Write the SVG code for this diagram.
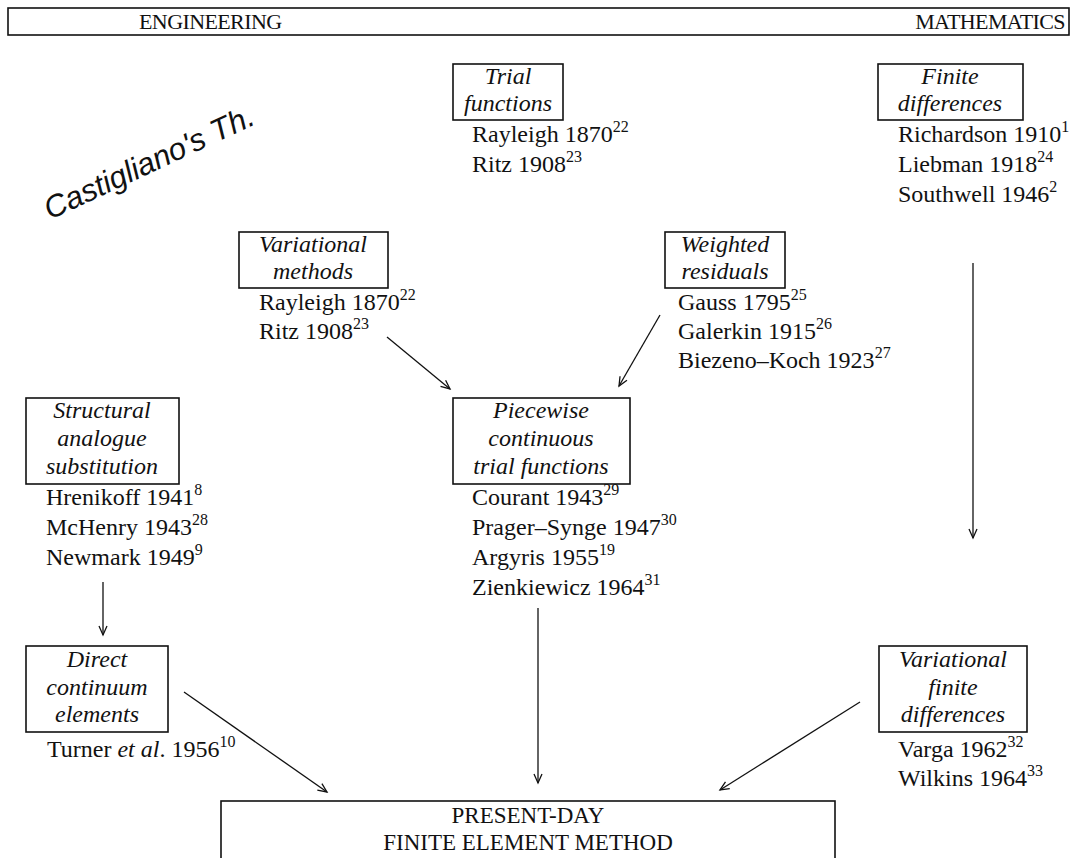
<svg xmlns="http://www.w3.org/2000/svg" width="1074" height="858" viewBox="0 0 1074 858">
<defs>
<marker id="ah" markerWidth="12" markerHeight="12" refX="10" refY="5" orient="auto" markerUnits="userSpaceOnUse">
<path d="M1,1 L10,5 L1,9" fill="none" stroke="#111" stroke-width="1.3"/>
</marker>
<style>
.box{fill:#fff;stroke:#111;stroke-width:1.6}
.lab{font-family:"Liberation Serif",serif;font-style:italic;font-size:24px;fill:#111;text-anchor:middle}
.ref{font-family:"Liberation Serif",serif;font-size:24px;fill:#111}
.sup{font-size:16px}
.hdr{font-family:"Liberation Serif",serif;font-size:22px;fill:#111;letter-spacing:-0.6px}
.cap{font-family:"Liberation Serif",serif;font-size:23px;fill:#111;text-anchor:middle}
.con{stroke:#111;stroke-width:1.3;fill:none;marker-end:url(#ah)}
.hand{font-family:"Liberation Sans",sans-serif;font-style:italic;font-size:31px;fill:#111}
</style>
</defs>
<rect width="1074" height="858" fill="#fff"/>

<g id="header">
<rect class="box" x="8" y="8" width="1061" height="27"/>
<text class="hdr" x="139" y="29">ENGINEERING</text>
<text class="hdr" x="1065" y="29" text-anchor="end">MATHEMATICS</text>
</g>

<g id="note">
<text class="hand" x="50" y="220" transform="rotate(-25 50 220)">Castigliano's Th.</text>
</g>

<g id="trial">
<rect class="box" x="453" y="64" width="110" height="56"/>
<text class="lab" x="508" y="84">Trial</text>
<text class="lab" x="508" y="111">functions</text>
<text class="ref" x="472" y="142">Rayleigh 1870<tspan class="sup" dy="-10">22</tspan></text>
<text class="ref" x="472" y="172">Ritz 1908<tspan class="sup" dy="-10">23</tspan></text>
</g>

<g id="finite">
<rect class="box" x="878" y="64" width="145" height="56"/>
<text class="lab" x="950" y="84">Finite</text>
<text class="lab" x="950" y="111">differences</text>
<text class="ref" x="898" y="142">Richardson 1910<tspan class="sup" dy="-10">1</tspan></text>
<text class="ref" x="898" y="172">Liebman 1918<tspan class="sup" dy="-10">24</tspan></text>
<text class="ref" x="898" y="202">Southwell 1946<tspan class="sup" dy="-10">2</tspan></text>
</g>

<g id="variational">
<rect class="box" x="239" y="232" width="149" height="56"/>
<text class="lab" x="313" y="252">Variational</text>
<text class="lab" x="313" y="279">methods</text>
<text class="ref" x="259" y="310">Rayleigh 1870<tspan class="sup" dy="-10">22</tspan></text>
<text class="ref" x="259" y="339">Ritz 1908<tspan class="sup" dy="-10">23</tspan></text>
</g>

<g id="weighted">
<rect class="box" x="665" y="232" width="120" height="56"/>
<text class="lab" x="725" y="252">Weighted</text>
<text class="lab" x="725" y="279">residuals</text>
<text class="ref" x="678" y="310">Gauss 1795<tspan class="sup" dy="-10">25</tspan></text>
<text class="ref" x="678" y="339">Galerkin 1915<tspan class="sup" dy="-10">26</tspan></text>
<text class="ref" x="678" y="368">Biezeno–Koch 1923<tspan class="sup" dy="-10">27</tspan></text>
</g>

<g id="structural">
<rect class="box" x="26" y="398" width="153" height="86"/>
<text class="lab" x="102" y="418">Structural</text>
<text class="lab" x="102" y="446">analogue</text>
<text class="lab" x="102" y="474">substitution</text>
<text class="ref" x="46" y="505">Hrenikoff 1941<tspan class="sup" dy="-10">8</tspan></text>
<text class="ref" x="46" y="535">McHenry 1943<tspan class="sup" dy="-10">28</tspan></text>
<text class="ref" x="46" y="565">Newmark 1949<tspan class="sup" dy="-10">9</tspan></text>
</g>

<g id="piecewise">
<rect class="box" x="453" y="398" width="177" height="86"/>
<text class="lab" x="541" y="418">Piecewise</text>
<text class="lab" x="541" y="446">continuous</text>
<text class="lab" x="541" y="474">trial functions</text>
<text class="ref" x="472" y="505">Courant 1943<tspan class="sup" dy="-10">29</tspan></text>
<text class="ref" x="472" y="535">Prager–Synge 1947<tspan class="sup" dy="-10">30</tspan></text>
<text class="ref" x="472" y="565">Argyris 1955<tspan class="sup" dy="-10">19</tspan></text>
<text class="ref" x="472" y="595">Zienkiewicz 1964<tspan class="sup" dy="-10">31</tspan></text>
</g>

<g id="direct">
<rect class="box" x="26" y="646" width="142" height="86"/>
<text class="lab" x="97" y="667">Direct</text>
<text class="lab" x="97" y="695">continuum</text>
<text class="lab" x="97" y="722">elements</text>
<text class="ref" x="47" y="757">Turner <tspan font-style="italic">et al</tspan>. 1956<tspan class="sup" dy="-10">10</tspan></text>
</g>

<g id="varfinite">
<rect class="box" x="879" y="646" width="148" height="86"/>
<text class="lab" x="953" y="667">Variational</text>
<text class="lab" x="953" y="695">finite</text>
<text class="lab" x="953" y="722">differences</text>
<text class="ref" x="898" y="757">Varga 1962<tspan class="sup" dy="-10">32</tspan></text>
<text class="ref" x="898" y="786">Wilkins 1964<tspan class="sup" dy="-10">33</tspan></text>
</g>

<g id="fem">
<rect class="box" x="221" y="801" width="614" height="80"/>
<text class="cap" x="528" y="823">PRESENT-DAY</text>
<text class="cap" x="528" y="850">FINITE ELEMENT METHOD</text>
</g>

<g id="connectors">
<line class="con" x1="973" y1="263" x2="973" y2="538"/>
<line class="con" x1="387" y1="337" x2="450" y2="389"/>
<line class="con" x1="660" y1="315" x2="619" y2="386"/>
<line class="con" x1="103" y1="582" x2="103" y2="635"/>
<line class="con" x1="184" y1="692" x2="327" y2="792"/>
<line class="con" x1="538" y1="608" x2="538" y2="783"/>
<line class="con" x1="860" y1="702" x2="720" y2="790"/>
</g>
</svg>
